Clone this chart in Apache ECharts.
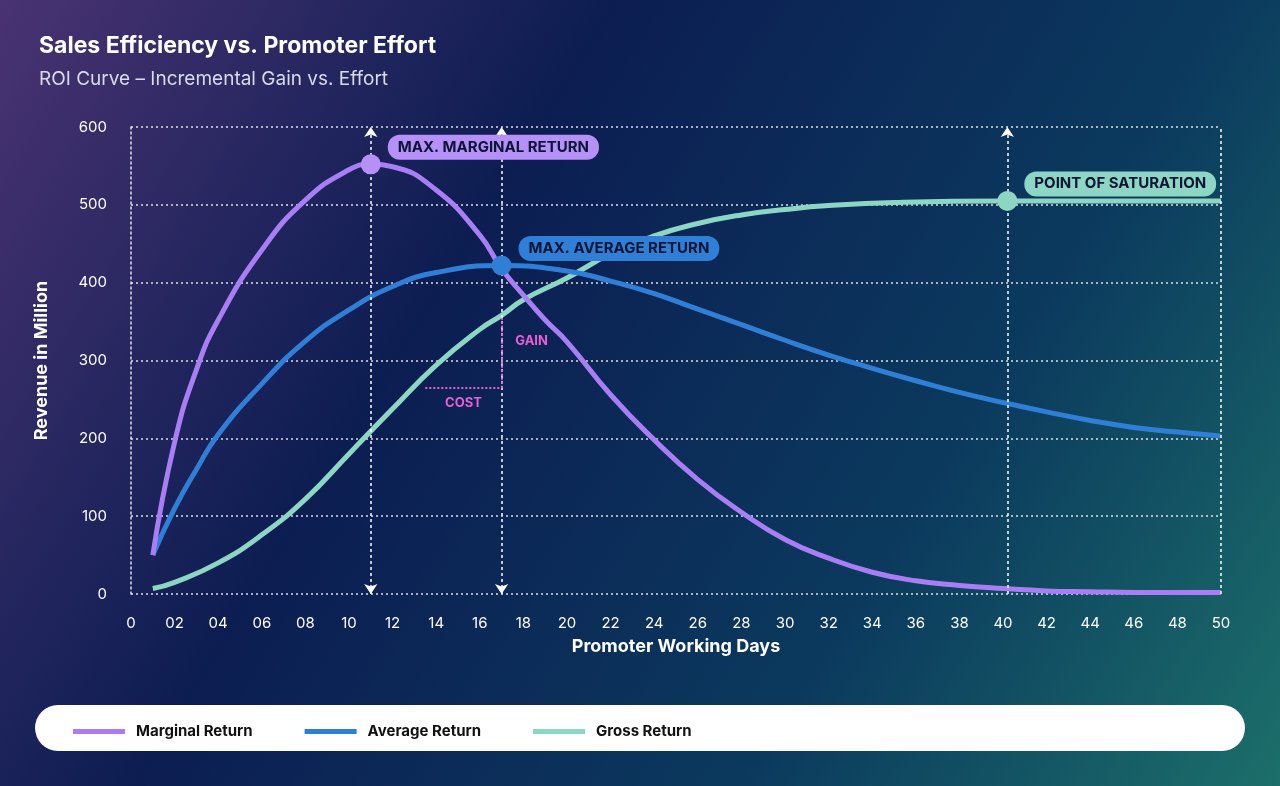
<!DOCTYPE html>
<html>
<head>
<meta charset="utf-8">
<script src="https://cdn.jsdelivr.net/npm/echarts@6/dist/echarts.min.js"></script>
<style>
html,body{margin:0;padding:0;width:1280px;height:786px;overflow:hidden;}
#chart{width:1280px;height:786px;}
</style>
</head>
<body>
<div id="chart"></div>
<script>
var xTicks = ['0', '02', '04', '06', '08', '10', '12', '14', '16', '18', '20', '22', '24', '26', '28', '30', '32', '34', '36', '38', '40', '42', '44', '46', '48', '50'];
var marginal = [[1, 50], [2, 195], [3, 288], [4, 352], [6, 442], [8, 506], [10, 545], [11, 552], [12, 549], [14, 519], [16, 461], [17, 418], [18, 384], [19, 352], [20, 324], [22, 256], [24, 198], [26, 147], [28, 105], [30, 70], [32, 46], [34, 28], [36, 17], [38, 11], [40, 7], [42, 4], [44, 3], [46, 2], [50, 2]];
var average = [[1, 50], [2, 110], [3, 160], [4, 205], [6, 270], [8, 325], [10, 365], [12, 395], [14, 413], [17, 422], [20, 415], [22, 402], [24, 386], [26, 366], [28, 346], [30, 326], [32, 307], [34, 290], [36, 274], [38, 259], [40, 246], [42, 234], [44, 223], [46, 214], [48, 208], [50, 203]];
var gross = [[1, 7], [2, 15], [4, 40], [6, 76], [8, 122], [10, 180], [12, 238], [14, 294], [16, 340], [17, 358], [18, 378], [20, 406], [22, 437], [24, 460], [26, 476], [28, 487], [30, 494], [32, 499], [35, 503], [40, 505], [50, 505]];
var peaks = {marginal: [11, 552], average: [17, 422], saturation: [40.2, 505]};
var gainCost = {x0: 13.5, x1: 17, base: 265, top: 355};

var chart = echarts.init(document.getElementById('chart'));
var dotted = {color: 'rgba(255,255,255,0.85)', type: [2, 3], width: 1.5};
var pink = '#e85fd6';

function pill(bg) {
    return {
        show: true, position: 'right', offset: [2, -17],
        backgroundColor: bg, borderRadius: 12, padding: [5, 10],
        color: '#0b1535', fontWeight: 'bold', fontSize: 15, fontFamily: 'Inter'
    };
}

chart.setOption({
    backgroundColor: {
        type: 'linear', x: 0, y: 0, x2: 1, y2: 1,
        colorStops: [
            {offset: 0, color: '#4a3372'},
            {offset: 0.35, color: '#0c1d52'},
            {offset: 0.7, color: '#0b3a5e'},
            {offset: 1, color: '#1c6f6a'}
        ]
    },
    textStyle: {fontFamily: 'Inter'},
    title: {
        text: 'Sales Efficiency vs. Promoter Effort',
        subtext: 'ROI Curve – Incremental Gain vs. Effort',
        left: 34, top: 30, itemGap: 12,
        textStyle: {color: '#fff', fontSize: 23, fontWeight: 'bold', fontFamily: 'Inter'},
        subtextStyle: {color: '#d8dbe8', fontSize: 19, fontFamily: 'Inter'}
    },
    graphic: [{
        type: 'rect', left: 35, top: 705, z: -1,
        shape: {width: 1210, height: 46, r: 23},
        style: {fill: '#fff'}
    }],
    legend: {
        left: 68, top: 719, itemWidth: 52, itemHeight: 5, itemGap: 52,
        icon: 'rect',
        textStyle: {color: '#111', fontWeight: 'bold', fontSize: 15, fontFamily: 'Inter', padding: [0, 0, 0, 6]},
        data: ['Marginal Return', 'Average Return', 'Gross Return']
    },
    grid: {left: 131, right: 59, top: 127, bottom: 192},
    xAxis: {
        type: 'value', min: 0, max: 50, interval: 2,
        name: 'Promoter Working Days', nameLocation: 'middle', nameGap: 44,
        nameTextStyle: {color: '#fff', fontSize: 18, fontWeight: 'bold'},
        axisLine: {show: false}, axisTick: {show: false}, splitLine: {show: false},
        axisLabel: {color: '#fff', fontSize: 15, margin: 22, formatter: function (v) { return xTicks[v / 2]; }}
    },
    yAxis: {
        type: 'value', min: 0, max: 600, interval: 100,
        name: 'Revenue in Million', nameLocation: 'middle', nameGap: 80,
        nameTextStyle: {color: '#fff', fontSize: 18, fontWeight: 'bold'},
        axisLine: {show: true, lineStyle: dotted}, axisTick: {show: false},
        splitLine: {lineStyle: dotted},
        axisLabel: {color: '#fff', fontSize: 15, margin: 24}
    },
    series: [{
        name: 'Marginal Return', type: 'line', smooth: true, showSymbol: false,
        data: marginal, color: '#a97ef5', lineStyle: {width: 5}, z: 4,
        markPoint: {
            symbol: 'circle', symbolSize: 20, itemStyle: {color: '#b590f7'},
            data: [{coord: peaks.marginal, label: pill('#b590f7'), value: 'MAX. MARGINAL RETURN'}],
            label: {formatter: 'MAX. MARGINAL RETURN'}
        },
        markLine: {
            silent: true, symbol: ['arrow', 'arrow'], symbolSize: [10, 10],
            lineStyle: {color: '#fff', type: [3, 3], width: 1.5}, label: {show: false},
            data: [
                [{coord: [peaks.marginal[0], 0]}, {coord: [peaks.marginal[0], 600]}],
                [{coord: [peaks.average[0], 0]}, {coord: [peaks.average[0], 600]}],
                [{coord: [peaks.saturation[0], 0], symbol: 'none'}, {coord: [peaks.saturation[0], 600]}],
                [{coord: [50, 0], symbol: 'none'}, {coord: [50, 600], symbol: 'none'}]
            ]
        }
    }, {
        name: 'Average Return', type: 'line', smooth: true, showSymbol: false,
        data: average, color: '#2f7fd6', lineStyle: {width: 5}, z: 3,
        markPoint: {
            symbol: 'circle', symbolSize: 20, itemStyle: {color: '#2f7fd6'},
            data: [{coord: peaks.average, label: pill('#2f7fd6')}],
            label: {formatter: 'MAX. AVERAGE RETURN'}
        },
        markLine: {
            silent: true, symbol: 'none',
            lineStyle: {color: pink, type: [2, 2], width: 2},
            data: [
                [{coord: [gainCost.x0, gainCost.base], label: {show: true, position: 'middle', formatter: 'COST', color: pink, fontWeight: 'bold', fontSize: 13, distance: -22}}, {coord: [gainCost.x1, gainCost.base]}],
                [{coord: [gainCost.x1, gainCost.base], label: {show: true, position: 'middle', formatter: 'GAIN', color: pink, fontWeight: 'bold', fontSize: 13, rotate: 0, offset: [30, 0]}}, {coord: [gainCost.x1, gainCost.top]}]
            ]
        }
    }, {
        name: 'Gross Return', type: 'line', smooth: true, showSymbol: false,
        data: gross, color: '#8dd6c3', lineStyle: {width: 5}, z: 2,
        markPoint: {
            symbol: 'circle', symbolSize: 20, itemStyle: {color: '#8dd6c3'},
            data: [{coord: peaks.saturation, label: pill('#8dd6c3')}],
            label: {formatter: 'POINT OF SATURATION'}
        }
    }]
});
</script>
</body>
</html>
